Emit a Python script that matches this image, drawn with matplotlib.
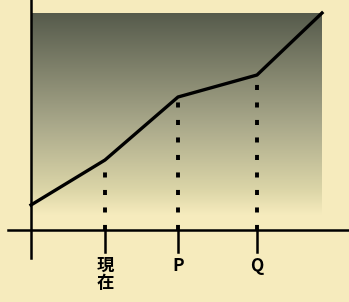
import numpy as np
import matplotlib
matplotlib.use("Agg")
import matplotlib.pyplot as plt
from matplotlib.colors import LinearSegmentedColormap

plt.rcParams['font.family'] = ['Noto Sans CJK JP', 'DejaVu Sans']

# Data (x: time, y: amount)
x_pts = [0, 74, 147, 226, 291]
y_pts = [25, 70, 133, 155, 217]
tick_x = [74, 147, 226]
tick_labels = ["現\n在", "P", "Q"]
tick_y = [70, 133, 155]

bg = "#f6ebbd"
fig = plt.figure(figsize=(3.49, 3.02), dpi=100, facecolor=bg)
ax = fig.add_axes([0, 0, 1, 1])
ax.set_facecolor(bg)
ax.set_xlim(-31, 318)
ax.set_ylim(-72, 230)
ax.axis("off")

# Shaded gradient band
cmap = LinearSegmentedColormap.from_list(
    "band", [(0.0, bg), (0.12, "#dcd6a8"), (0.45, "#a9a88a"), (1.0, "#565b4c")])
grad = np.linspace(0, 1, 256).reshape(-1, 1)
ax.imshow(grad, cmap=cmap, origin="lower", aspect="auto",
          extent=[0, 291, 15, 217], zorder=1)

# Axes lines
ax.plot([-23, 318], [0, 0], color="black", lw=1.8, zorder=3)
ax.plot([0, 0], [-28, 230], color="black", lw=1.8, zorder=3)

# Main line
ax.plot(x_pts, y_pts, color="black", lw=2.4, zorder=4)

# Dashed drop lines and ticks
for tx, ty, lab in zip(tick_x, tick_y, tick_labels):
    ax.plot([tx, tx], [0, ty - 4], color="black", lw=2.8,
            linestyle=(0, (1.3, 3.2)), zorder=3)
    ax.plot([tx, tx], [-22, 0], color="black", lw=1.8, zorder=3)
    ax.text(tx, -27, lab, ha="center", va="top", fontsize=12.5,
            fontweight="bold", linespacing=0.95)

fig.savefig("out.png", dpi=100, facecolor=bg)
